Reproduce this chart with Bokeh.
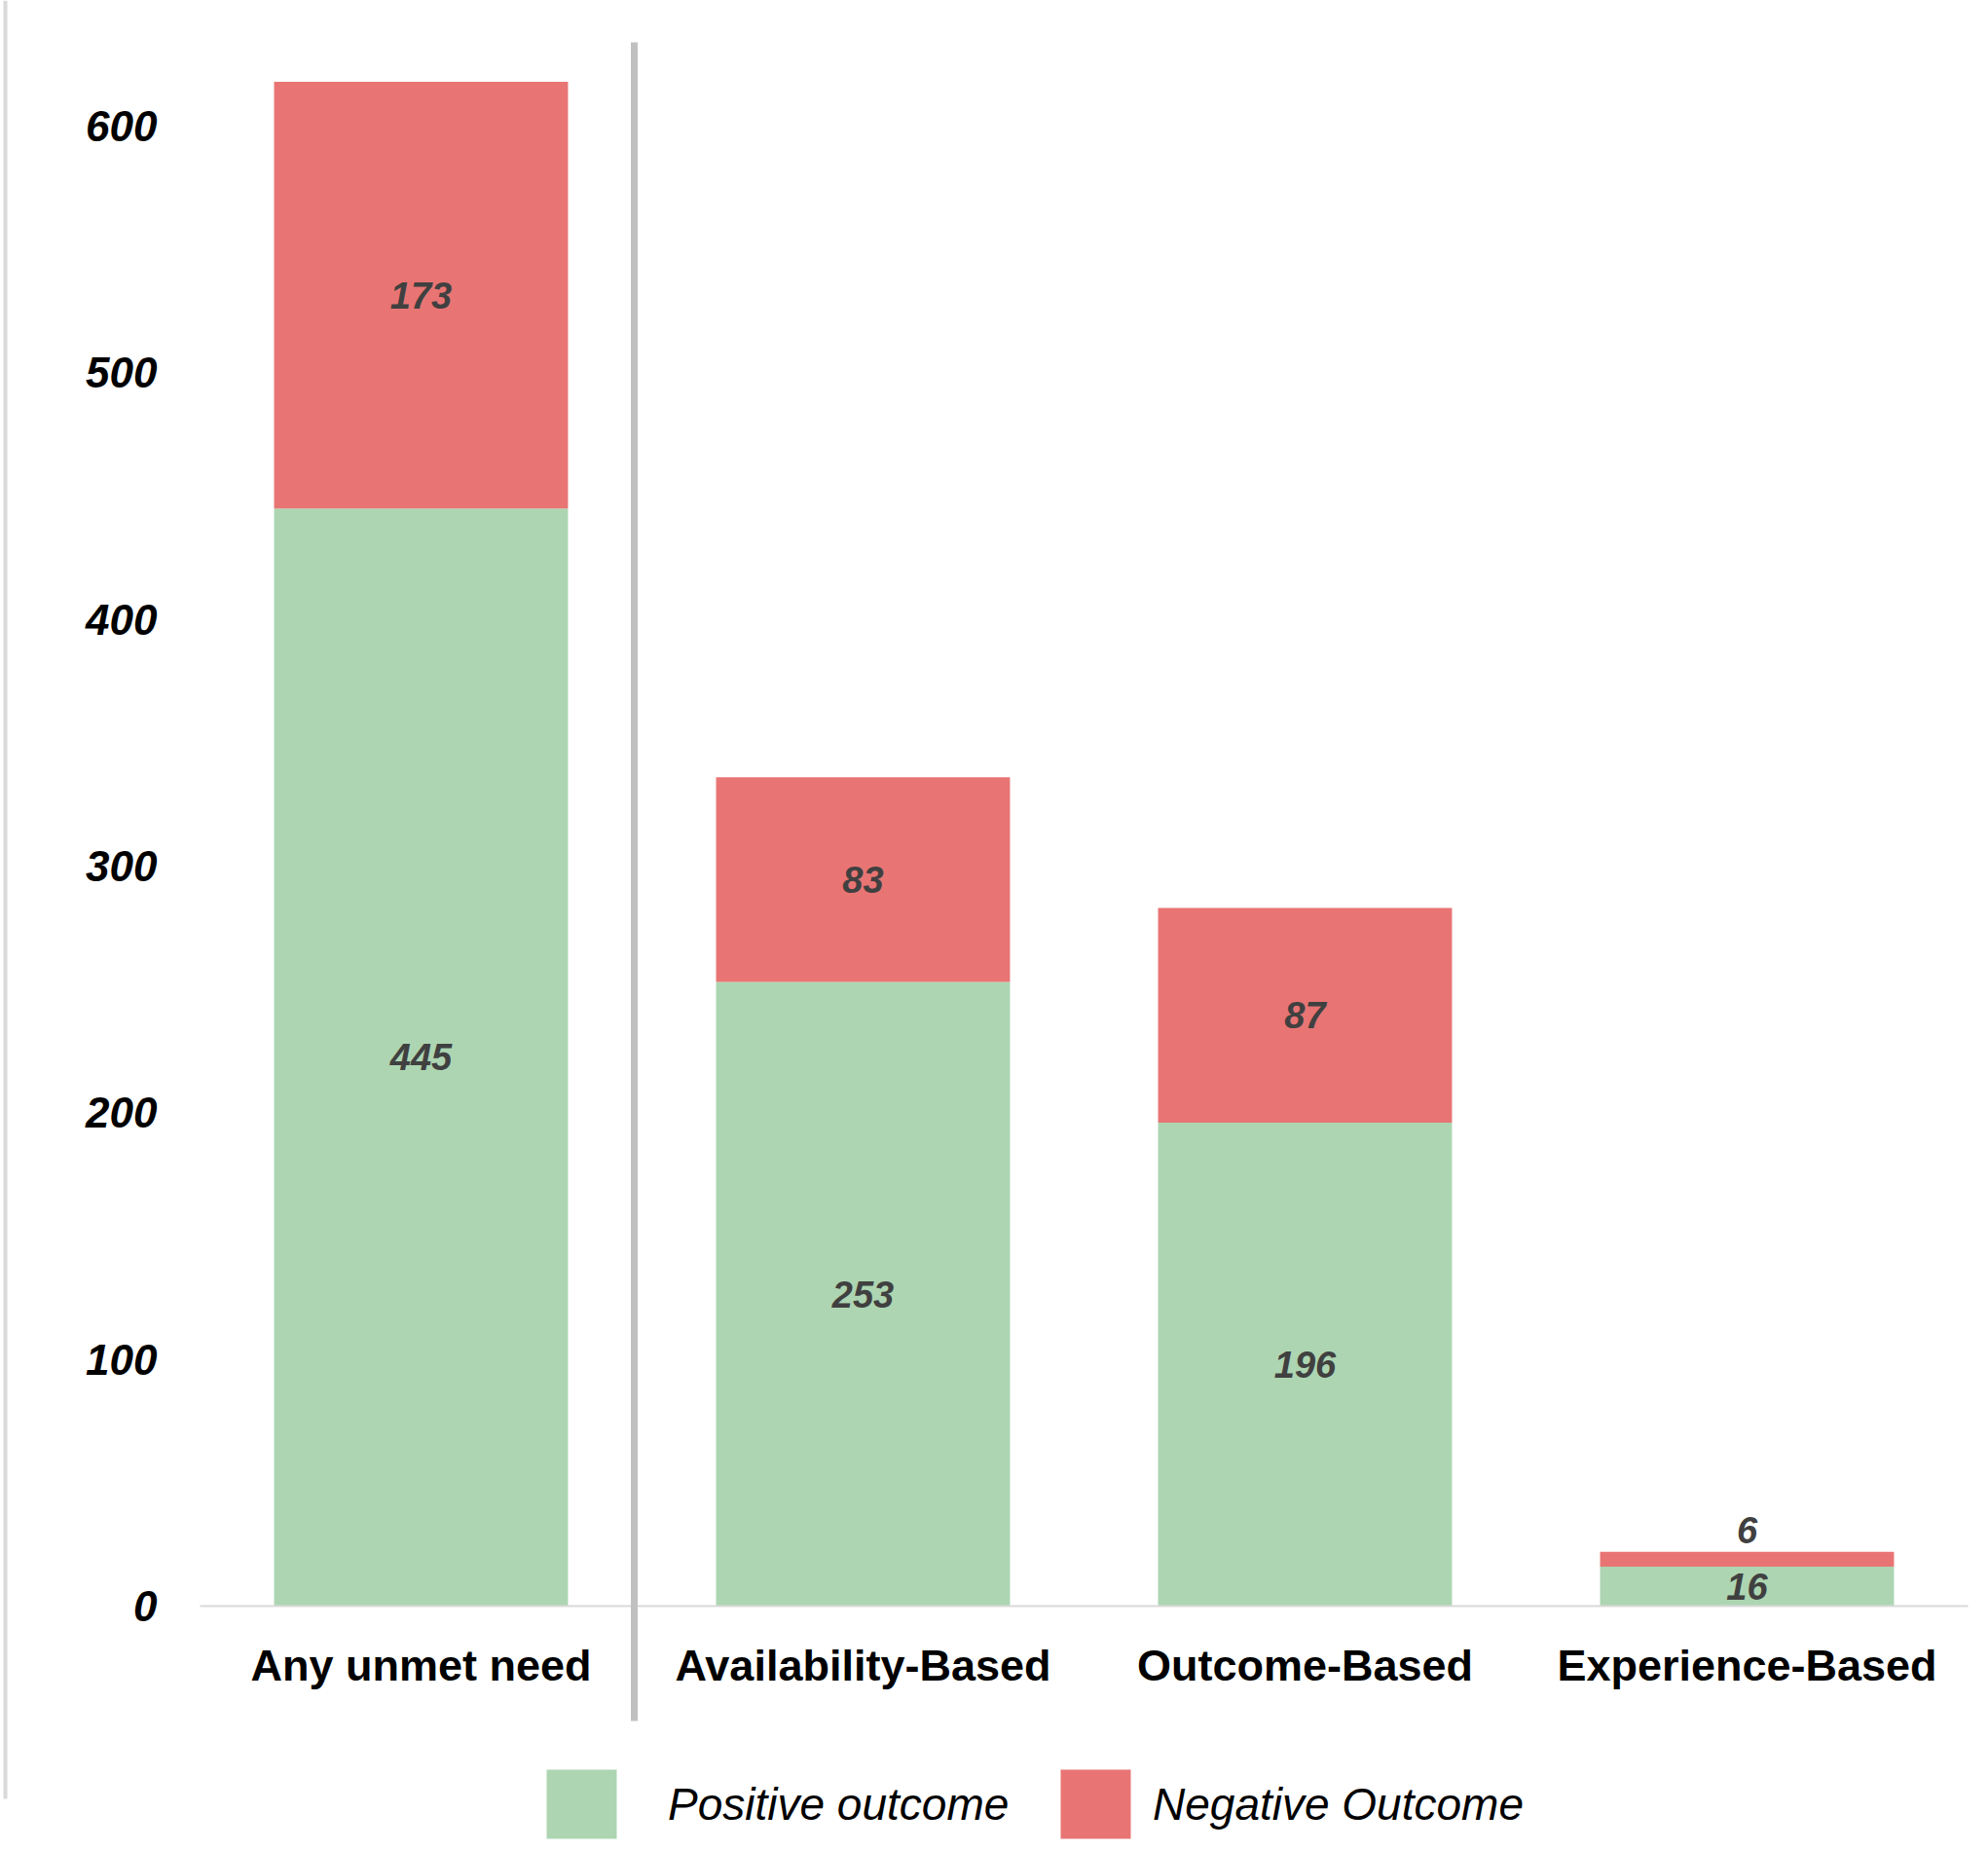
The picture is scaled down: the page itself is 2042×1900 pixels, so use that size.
from bokeh.plotting import figure
from bokeh.models import Range1d, ColumnDataSource, Legend, LegendItem
from bokeh.core.properties import value
from bokeh.embed import file_html
from bokeh.resources import INLINE

# ---- data ----
categories = ["Any unmet need", "Availability-Based", "Outcome-Based", "Experience-Based"]
positive = [445, 253, 196, 16]
negative = [173, 83, 87, 6]
series_names = ["Positive outcome", "Negative Outcome"]
y_ticks = [0, 100, 200, 300, 400, 500, 600]

GREEN = "#ADD5B2"
RED = "#E87574"
FONT = "Liberation Sans"

# ---- canvas / scale calibration ----
W, H = 2042, 1900
PX_PER_CAT = 454.0
X_START = -0.4515
X_END = X_START + W / PX_PER_CAT
Y0_PX = 1649.0
PX_PER_UNIT = 2.5333
Y_END = Y0_PX / PX_PER_UNIT
Y_START = -(H - Y0_PX) / PX_PER_UNIT


def px_x(px):
    return X_START + px / PX_PER_CAT


def px_y(py):
    return (Y0_PX - py) / PX_PER_UNIT


p = figure(width=W, height=H,
           x_range=Range1d(X_START, X_END), y_range=Range1d(Y_START, Y_END),
           x_axis_type=None, y_axis_type=None,
           output_backend="svg", toolbar_location=None,
           min_border=0, outline_line_color=None,
           background_fill_color="white", border_fill_color="white")
p.grid.visible = False

xs = [i + 0.5 for i in range(len(categories))]
src = ColumnDataSource(dict(x=xs, cat=categories, pos=positive, neg=negative))

rs = p.vbar_stack(["pos", "neg"], x="x", width=0.665, source=src,
                  fill_color=[GREEN, RED], line_color=None)

# baseline
p.segment(x0=[0], x1=[len(categories)], y0=[0], y1=[0], line_color="#D9D9D9", line_width=2)

# separator after first category
p.segment(x0=[px_x(651)], x1=[px_x(651)], y0=[px_y(43)], y1=[px_y(1767)],
          line_color="#C0C0C0", line_width=7)

# left border line
p.segment(x0=[px_x(5)], x1=[px_x(5)], y0=[Y_END], y1=[px_y(1847)],
          line_color="#D9D9D9", line_width=4)

# y tick labels
p.text(x=[px_x(161)] * len(y_ticks), y=y_ticks, text=[str(t) for t in y_ticks],
       text_align="right", text_baseline="middle",
       text_font=value(FONT), text_font_style="bold italic",
       text_font_size="44px", text_color="black")

# category labels
p.text(x=xs, y=[0] * len(xs), text=categories, y_offset=61,
       text_align="center", text_baseline="middle",
       text_font=value(FONT), text_font_style="bold",
       text_font_size="45px", text_color="black")

# data labels
pos_y = [v / 2 for v in positive]
p.text(x=xs, y=pos_y, text=[str(v) for v in positive],
       text_align="center", text_baseline="middle",
       text_font=value(FONT), text_font_style="bold italic",
       text_font_size="38px", text_color="#404040")

in_x, in_y, in_t, out_x, out_y, out_t = [], [], [], [], [], []
for x, a, b in zip(xs, positive, negative):
    if b >= 20:
        in_x.append(x); in_y.append(a + b / 2); in_t.append(str(b))
    else:
        out_x.append(x); out_y.append(a + b); out_t.append(str(b))

p.text(x=in_x, y=in_y, text=in_t,
       text_align="center", text_baseline="middle",
       text_font=value(FONT), text_font_style="bold italic",
       text_font_size="38px", text_color="#404040")
p.text(x=out_x, y=out_y, text=out_t, y_offset=-22,
       text_align="center", text_baseline="middle",
       text_font=value(FONT), text_font_style="bold italic",
       text_font_size="38px", text_color="#404040")

# legends
for name, r, lx, standoff in zip(series_names, rs, [552, 1080], [44, 14]):
    leg = Legend(items=[LegendItem(label=name, renderers=[r])],
                 location=(lx, 3), orientation="horizontal",
                 glyph_width=90, glyph_height=89, label_standoff=standoff,
                 padding=0, margin=0, border_line_color=None,
                 background_fill_alpha=0,
                 label_text_font=FONT, label_text_font_style="italic",
                 label_text_font_size="46px", label_text_color="black")
    p.add_layout(leg)

open("out.html", "w").write(file_html(p, INLINE))
